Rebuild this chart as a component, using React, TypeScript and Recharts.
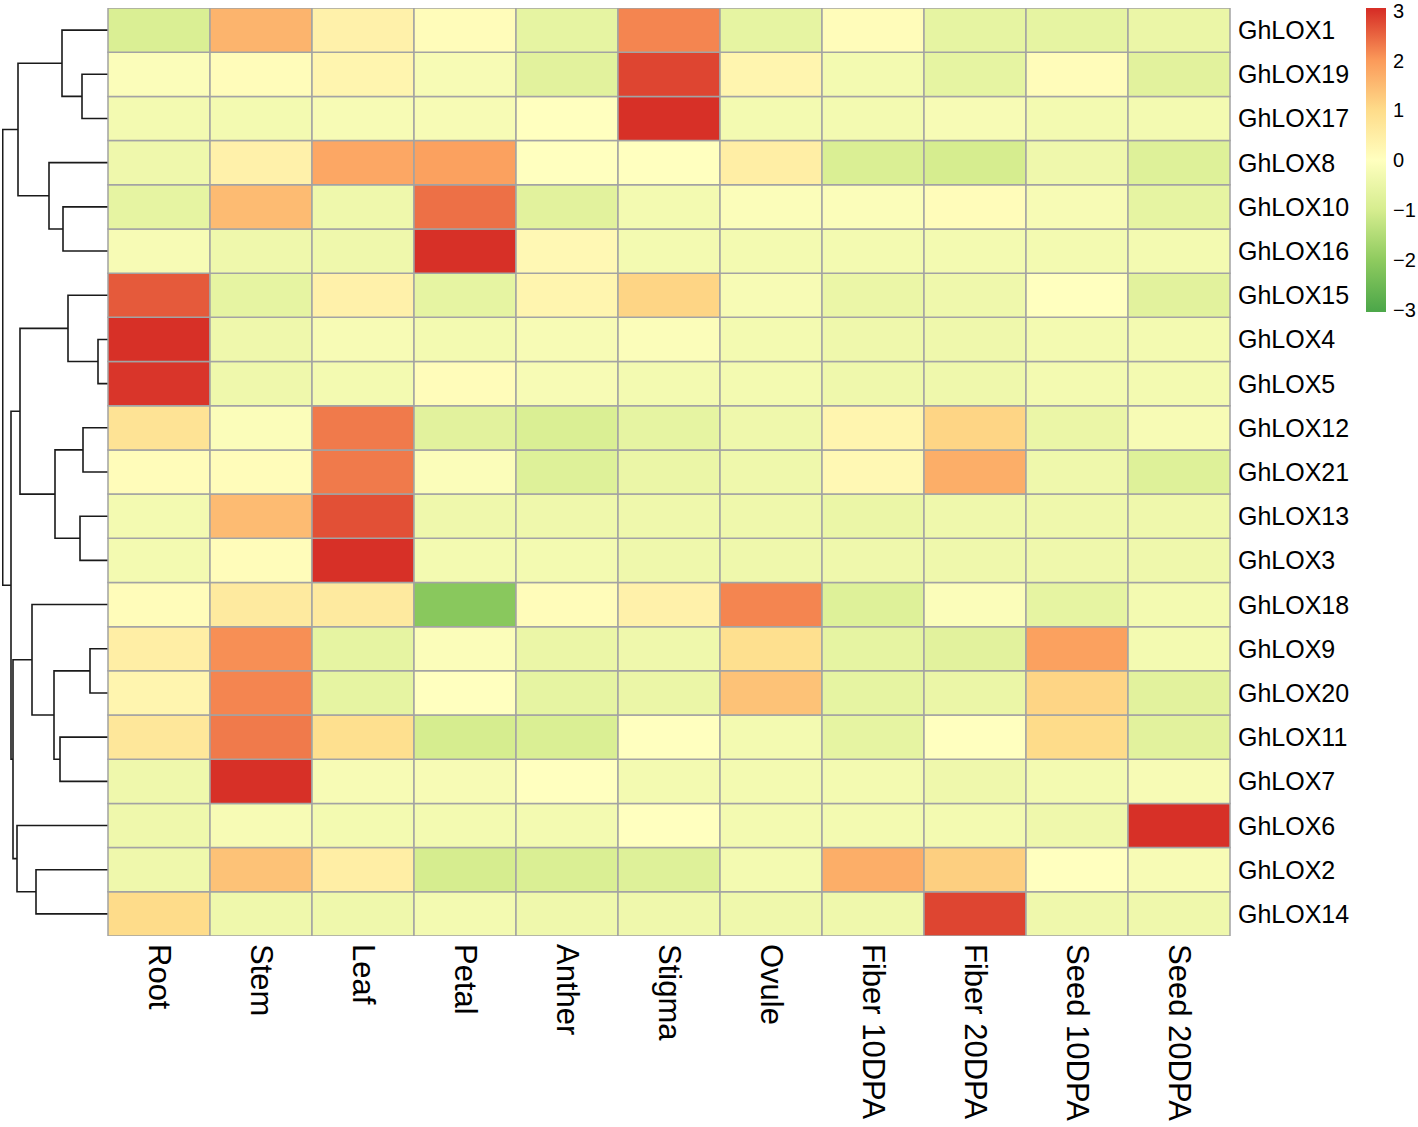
import React from 'react';
import {
  BarChart,
  Bar,
  Cell,
  XAxis,
  YAxis,
  LineChart,
  Line,
} from 'recharts';

const tissues = ['Root', 'Stem', 'Leaf', 'Petal', 'Anther', 'Stigma', 'Ovule', 'Fiber 10DPA', 'Fiber 20DPA', 'Seed 10DPA', 'Seed 20DPA'];

const genes = [
  'GhLOX1', 'GhLOX19', 'GhLOX17', 'GhLOX8', 'GhLOX10', 'GhLOX16', 'GhLOX15',
  'GhLOX4', 'GhLOX5', 'GhLOX12', 'GhLOX21', 'GhLOX13', 'GhLOX3', 'GhLOX18',
  'GhLOX9', 'GhLOX20', 'GhLOX11', 'GhLOX7', 'GhLOX6', 'GhLOX2', 'GhLOX14',
];

// z-scores, one row per gene, columns in tissue order
const values: number[][] = [
  [-0.9, 1.6, 0.4, 0.1, -0.6, 2.2, -0.6, 0.1, -0.6, -0.6, -0.5],
  [-0.1, 0.1, 0.3, -0.2, -0.7, 2.8, 0.3, -0.3, -0.6, 0.1, -0.7],
  [-0.3, -0.3, -0.2, -0.2, 0.0, 3.0, -0.3, -0.3, -0.2, -0.3, -0.3],
  [-0.4, 0.4, 1.8, 1.9, 0.0, 0.0, 0.5, -0.9, -1.0, -0.4, -0.8],
  [-0.6, 1.5, -0.4, 2.4, -0.7, -0.3, -0.1, -0.1, 0.1, -0.2, -0.6],
  [-0.2, -0.4, -0.4, 3.0, 0.2, -0.3, -0.3, -0.3, -0.3, -0.3, -0.3],
  [2.6, -0.6, 0.4, -0.6, 0.3, 1.1, -0.2, -0.5, -0.4, 0.0, -0.7],
  [3.0, -0.4, -0.2, -0.3, -0.2, -0.1, -0.3, -0.4, -0.4, -0.3, -0.3],
  [2.95, -0.4, -0.3, 0.1, -0.2, -0.3, -0.3, -0.4, -0.4, -0.3, -0.3],
  [0.8, -0.1, 2.3, -0.7, -0.9, -0.6, -0.4, 0.3, 1.1, -0.5, -0.2],
  [0.1, 0.1, 2.3, -0.1, -0.8, -0.5, -0.4, 0.2, 1.7, -0.4, -0.8],
  [-0.3, 1.5, 2.7, -0.4, -0.4, -0.4, -0.4, -0.5, -0.4, -0.4, -0.4],
  [-0.3, 0.1, 3.0, -0.3, -0.3, -0.4, -0.4, -0.4, -0.4, -0.4, -0.4],
  [0.1, 0.6, 0.6, -2.1, 0.1, 0.4, 2.2, -0.8, -0.1, -0.6, -0.3],
  [0.5, 2.1, -0.6, -0.1, -0.5, -0.4, 0.9, -0.6, -0.7, 1.9, -0.3],
  [0.3, 2.2, -0.6, 0.0, -0.6, -0.5, 1.4, -0.6, -0.5, 1.1, -0.7],
  [0.7, 2.3, 0.9, -1.0, -0.9, 0.0, -0.3, -0.6, 0.0, 1.0, -0.7],
  [-0.4, 3.0, -0.2, -0.2, 0.0, -0.3, -0.3, -0.3, -0.4, -0.3, -0.2],
  [-0.4, -0.2, -0.3, -0.3, -0.3, 0.0, -0.3, -0.3, -0.3, -0.4, 3.0],
  [-0.4, 1.4, 0.5, -1.0, -0.9, -0.8, -0.3, 1.7, 1.2, 0.0, -0.2],
  [1.0, -0.4, -0.4, -0.3, -0.4, -0.4, -0.4, -0.4, 2.8, -0.4, -0.4],
];

// row clustering, hclust style: negative = leaf (1-based row), positive = earlier merge
const merges: [number, number, number][] = [
  [-8, -9, 10],
  [-15, -16, 18],
  [-10, -11, 25],
  [-2, -3, 26],
  [-12, -13, 28],
  [-7, 1, 40],
  [-5, -6, 45],
  [-1, 4, 46],
  [-17, -18, 48],
  [3, 5, 53],
  [2, 9, 54],
  [-4, 7, 59],
  [-20, -21, 72],
  [-14, 11, 76],
  [6, 10, 88],
  [8, 12, 90],
  [-19, 13, 91],
  [14, 17, 95],
  [15, 18, 97],
  [16, 19, 105.3],
];

const legendTicks = [-3, -2, -1, 0, 1, 2, 3];
const scaleStops: [number, string][] = [
  [-3, '#4ea84a'],
  [-2, '#8fcb5f'],
  [-1, '#d6ed8f'],
  [0, '#ffffbf'],
  [1, '#fedc8a'],
  [2, '#fb9a5a'],
  [3, '#d73027'],
];

const FONT = '"Liberation Sans", Arial, sans-serif';
const GRID = '#a3a3a3';

const hex = (c: string) => [1, 3, 5].map((i) => parseInt(c.slice(i, i + 2), 16));

const colorOf = (v: number) => {
  const x = Math.max(-3, Math.min(3, v));
  for (let i = 0; i < scaleStops.length - 1; i++) {
    const [a, ca] = scaleStops[i];
    const [b, cb] = scaleStops[i + 1];
    if (x <= b) {
      const t = (x - a) / (b - a);
      const A = hex(ca);
      const B = hex(cb);
      const m = A.map((q, k) => Math.round(q + (B[k] - q) * t));
      return `rgb(${m[0]},${m[1]},${m[2]})`;
    }
  }
  return scaleStops[scaleStops.length - 1][1];
};

// build dendrogram segments from the merge table
const buildTree = () => {
  const pos: { h: number; y: number }[] = [];
  const node = (id: number) => (id < 0 ? { h: 0, y: -id - 0.5 } : pos[id - 1]);
  const links: { h: number; y: number }[][] = [];
  merges.forEach(([a, b, h]) => {
    const A = node(a);
    const B = node(b);
    links.push([
      { h: A.h, y: A.y },
      { h, y: A.y },
      { h, y: B.y },
      { h: B.h, y: B.y },
    ]);
    pos.push({ h, y: (A.y + B.y) / 2 });
  });
  return links;
};

const heatData = tissues.map((t) => {
  const d: Record<string, string | number> = { tissue: t };
  genes.forEach((g) => (d[g] = 1));
  return d;
});

const ColTick = (props: any) => {
  const { x, y, payload } = props;
  return (
    <text
      x={x}
      y={y}
      transform={`rotate(90, ${x}, ${y})`}
      textAnchor="start"
      dominantBaseline="central"
      fontSize={31}
      fontFamily={FONT}
      fill="#000"
    >
      {payload.value}
    </text>
  );
};

const RowTick = (props: any) => {
  const { x, y, payload } = props;
  const idx = Math.round(20.5 - payload.value);
  return (
    <text x={x} y={y} dy="0.36em" textAnchor="start" fontSize={25} fontFamily={FONT} fill="#000">
      {genes[idx]}
    </text>
  );
};

const LegendTick = (props: any) => {
  const { x, y, payload } = props;
  const v = payload.value as number;
  return (
    <text x={x + 1} y={y} dy="0.36em" textAnchor="start" fontSize={20} fontFamily={FONT} fill="#000">
      {v < 0 ? `\u2212${Math.abs(v)}` : v}
    </text>
  );
};

const App = () => {
  const links = buildTree();
  const rowTicks = genes.map((_, i) => i + 0.5);
  const legendData = [{ name: 'scale', range: [-3.05, 3.05] }];

  return (
    <div style={{ position: 'absolute', left: 0, top: 0, width: 1418, height: 1127, background: 'white' }}>
      {/* dendrogram */}
      <div style={{ position: 'absolute', left: 0, top: 0 }}>
        <LineChart width={108} height={944} margin={{ top: 8, right: 0, bottom: 8, left: 2 }}>
          <XAxis type="number" dataKey="h" domain={[0, 106]} reversed hide allowDataOverflow />
          <YAxis type="number" dataKey="y" domain={[0, 21]} reversed hide allowDataOverflow />
          {links.map((pts, i) => (
            <Line
              key={i}
              data={pts}
              dataKey="y"
              stroke="#1a1a1a"
              strokeWidth={1.6}
              dot={false}
              activeDot={false}
              isAnimationActive={false}
              type="linear"
            />
          ))}
        </LineChart>
      </div>

      {/* heatmap */}
      <div style={{ position: 'absolute', left: 0, top: 0 }}>
        <BarChart
          width={1418}
          height={1127}
          data={heatData}
          barCategoryGap={0}
          barGap={0}
          margin={{ top: 8, right: 58, bottom: 1, left: 108 }}
        >
          <XAxis
            dataKey="tissue"
            type="category"
            interval={0}
            tickLine={false}
            axisLine={false}
            height={190}
            tick={<ColTick />}
            tickMargin={2}
          />
          <YAxis
            type="number"
            orientation="right"
            domain={[0, 21]}
            ticks={rowTicks}
            tickLine={false}
            axisLine={false}
            width={130}
            tick={<RowTick />}
            allowDataOverflow
          />
          {[...genes].reverse().map((g) => {
            const r = genes.indexOf(g);
            return (
              <Bar key={g} dataKey={g} stackId="s" isAnimationActive={false}>
                {tissues.map((t, c) => (
                  <Cell key={t} fill={colorOf(values[r][c])} stroke={GRID} strokeWidth={1.5} />
                ))}
              </Bar>
            );
          })}
        </BarChart>
      </div>

      {/* colour key */}
      <div style={{ position: 'absolute', left: 1366, top: 0 }}>
        <BarChart
          width={52}
          height={320}
          data={legendData}
          barCategoryGap={0}
          margin={{ top: 8, right: 0, bottom: 8, left: 0 }}
        >
          <defs>
            <linearGradient id="keyGrad" x1="0" y1="0" x2="0" y2="1">
              {[...scaleStops].reverse().map(([v, c]) => (
                <stop key={v} offset={`${((3.05 - v) / 6.1) * 100}%`} stopColor={c} />
              ))}
            </linearGradient>
          </defs>
          <XAxis dataKey="name" type="category" hide />
          <YAxis
            type="number"
            orientation="right"
            domain={[-3.05, 3.05]}
            ticks={legendTicks}
            tickLine={false}
            axisLine={false}
            width={32}
            tick={<LegendTick />}
            tickMargin={0}
            allowDataOverflow
          />
          <Bar dataKey="range" fill="url(#keyGrad)" isAnimationActive={false} />
        </BarChart>
      </div>
    </div>
  );
};

export default App;
